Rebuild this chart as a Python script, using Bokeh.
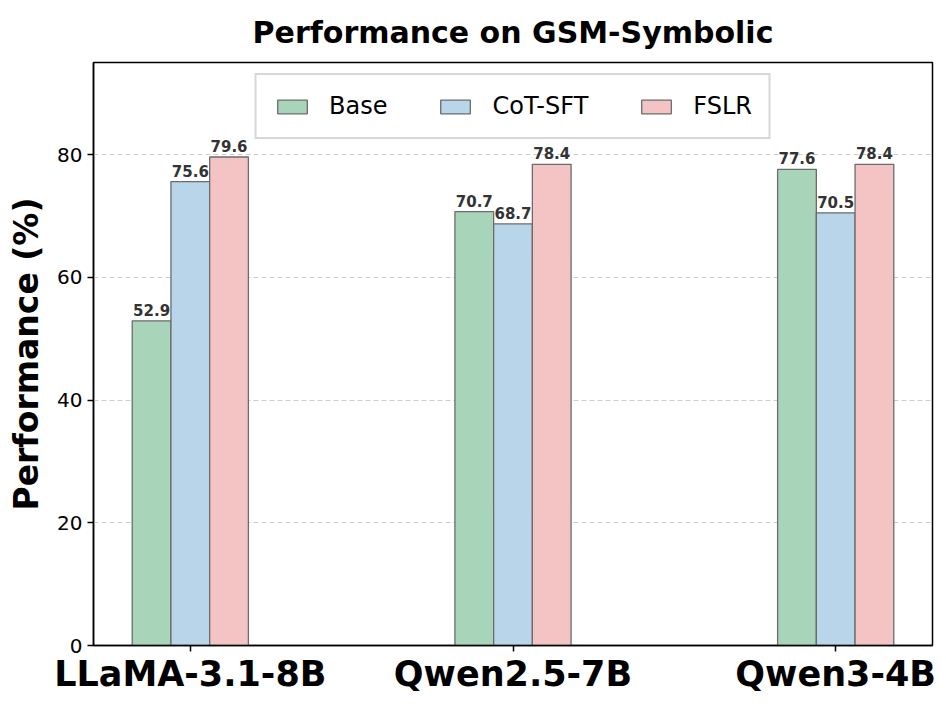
from bokeh.plotting import figure
from bokeh.models import ColumnDataSource, FixedTicker, Legend, LegendItem, Range1d
from bokeh.transform import dodge
from bokeh.core.properties import value
from bokeh.embed import file_html
from bokeh.resources import INLINE

# ---- data ----
models = ["LLaMA-3.1-8B", "Qwen2.5-7B", "Qwen3-4B"]
series = ["Base", "CoT-SFT", "FSLR"]
base_vals = [52.9, 70.7, 77.6]
cot_vals = [75.6, 68.7, 70.5]
fslr_vals = [79.6, 78.4, 78.4]
y_ticks = [0, 20, 40, 60, 80]

colors = ["#a8d5ba", "#b9d5e9", "#f4c3c3"]
offsets = [-0.12, 0.0, 0.12]
bar_w = 0.12
FONT = "DejaVu Sans"

xs = list(range(len(models)))

p = figure(width=940, height=696, output_backend="svg", toolbar_location=None,
           x_range=Range1d(-0.3, 2.3), y_range=Range1d(0, 95),
           min_border_left=93, min_border_right=8, min_border_top=62, min_border_bottom=51)

p.title.text = "Performance on GSM-Symbolic"
p.title.align = "center"
p.title.text_font = FONT
p.title.text_font_style = "bold"
p.title.text_font_size = "30px"
p.title.text_color = "black"
p.title.standoff = 25

p.outline_line_color = "black"
p.outline_line_width = 1.5
p.background_fill_color = "white"
p.border_fill_color = "white"

p.xgrid.visible = False
p.ygrid.grid_line_color = "#cccccc"
p.ygrid.grid_line_dash = "5 3"
p.ygrid.grid_line_width = 1
p.yaxis.ticker = FixedTicker(ticks=y_ticks)
p.xaxis.ticker = FixedTicker(ticks=xs)
p.xaxis.major_label_overrides = {i: m for i, m in enumerate(models)}

for ax in (p.xaxis[0], p.yaxis[0]):
    ax.axis_line_color = "black"
    ax.axis_line_width = 1.5
    ax.major_tick_line_color = "black"
    ax.major_tick_line_width = 1.5
    ax.major_tick_out = 6
    ax.major_tick_in = 0
    ax.minor_tick_line_color = None
    ax.major_label_text_font = FONT
    ax.major_label_text_color = "black"

p.yaxis.major_label_text_font_size = "20px"
p.xaxis.major_label_text_font_size = "35px"
p.xaxis.major_label_text_font_style = "bold"
p.xaxis.major_label_standoff = 2
p.yaxis.axis_label = "Performance (%)"
p.yaxis.axis_label_text_font = FONT
p.yaxis.axis_label_text_font_size = "33px"
p.yaxis.axis_label_text_font_style = "bold"
p.yaxis.axis_label_text_color = "black"
p.yaxis.axis_label_standoff = 8

all_vals = [base_vals, cot_vals, fslr_vals]
items = []
for name, vals, col, off in zip(series, all_vals, colors, offsets):
    src = ColumnDataSource(dict(x=xs, y=vals, lab=[f"{v:.1f}" for v in vals]))
    r = p.vbar(x=dodge("x", off, range=p.x_range), top="y", width=bar_w, source=src,
               fill_color=col, line_color="#6b6b6b", line_width=1.3)
    p.text(x=dodge("x", off, range=p.x_range), y="y", text="lab", source=src,
           text_font=value(FONT), text_font_style="bold", text_font_size="15px",
           text_color="#333333", text_align="center", text_baseline="alphabetic",
           y_offset=-11)
    items.append(LegendItem(label=name, renderers=[r]))

legend = Legend(items=items, orientation="horizontal", location="top_center",
                label_text_font=FONT, label_text_font_size="24px", label_text_color="black",
                glyph_width=37, glyph_height=17, label_standoff=19, spacing=49,
                padding=17, margin=11, border_line_color="#b0b0b0", border_line_width=2,
                background_fill_color="white", background_fill_alpha=1.0)
p.add_layout(legend, "center")

open("out.html", "w").write(file_html(p, INLINE))
